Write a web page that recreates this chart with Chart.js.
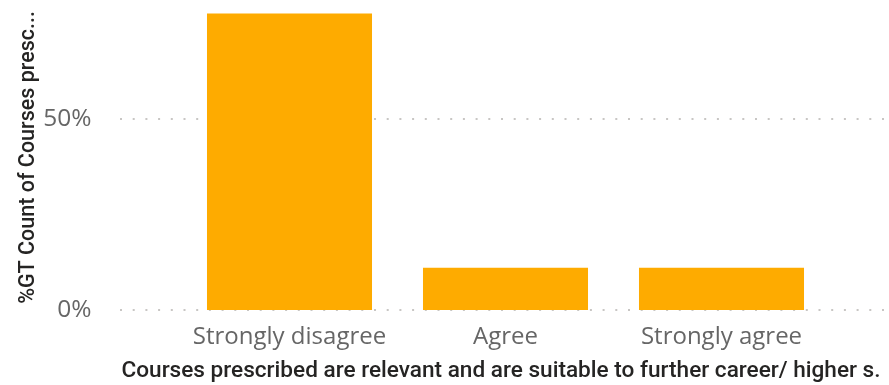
<!DOCTYPE html>
<html>
<head>
<meta charset="utf-8">
<script src="https://cdn.jsdelivr.net/npm/chart.js@4.4.1/dist/chart.umd.min.js"></script>
<style>
  html, body { margin: 0; padding: 0; background: #ffffff; }
  #wrap { width: 889px; height: 385px; }
</style>
</head>
<body>
<div id="wrap"><canvas id="c" width="889" height="385"></canvas></div>
<script>
const categories = ["Strongly disagree", "Agree", "Strongly agree"];
const percentValues = [77.78, 11.11, 11.11];
const yTickValues = [0, 50];
const xAxisTitle = "Courses prescribed are relevant and are suitable to further career/ higher s.";
const yAxisTitle = "%GT Count of Courses presc...";

const gridPlugin = {
  id: 'dottedGrid',
  beforeDatasetsDraw(chart) {
    const y = chart.scales.y;
    const ctx = chart.ctx;
    const area = chart.chartArea;
    ctx.save();
    ctx.strokeStyle = '#c8c6c4';
    ctx.lineWidth = 2;
    ctx.setLineDash([2, 10.7]);
    y.ticks.forEach(t => {
      const py = Math.round(y.getPixelForValue(t.value));
      ctx.beginPath();
      ctx.moveTo(area.left - 61.5, py);
      ctx.lineTo(chart.width, py);
      ctx.stroke();
    });
    ctx.restore();
  }
};

const xTitlePlugin = {
  id: 'xTitle',
  afterDraw(chart) {
    const ctx = chart.ctx;
    const area = chart.chartArea;
    ctx.save();
    ctx.fillStyle = '#252423';
    ctx.font = '500 22.8px Roboto';
    ctx.textAlign = 'left';
    ctx.textBaseline = 'alphabetic';
    ctx.fillText(xAxisTitle, area.left - 60, chart.height - 8, 759);
    ctx.restore();
  }
};

new Chart(document.getElementById('c'), {
  type: 'bar',
  data: {
    labels: categories,
    datasets: [{
      data: percentValues,
      backgroundColor: '#FEAB00',
      borderWidth: 0,
      categoryPercentage: 1,
      barPercentage: 0.764
    }]
  },
  options: {
    responsive: false,
    animation: false,
    devicePixelRatio: 1,
    layout: { padding: { top: 5, right: 59.5, left: 0, bottom: 0 } },
    plugins: { legend: { display: false }, tooltip: { enabled: false } },
    scales: {
      x: {
        grid: { display: false },
        border: { display: false },
        ticks: {
          color: '#666666',
          padding: 5,
          maxRotation: 0,
          font: { family: 'Open Sans', size: 24 }
        },
        title: { display: false },
        afterFit(scale) {
          scale.height = 75;
          scale.paddingLeft = 0; scale.paddingRight = 0;
        }
      },
      y: {
        min: 0,
        max: 80,
        grid: { display: false },
        border: { display: false },
        afterBuildTicks(scale) { scale.ticks = yTickValues.map(v => ({ value: v })); },
        ticks: {
          color: '#666666',
          padding: 82,
          font: { family: 'Open Sans', size: 24.5 },
          callback: v => v + '%'
        },
        title: {
          display: true,
          text: yAxisTitle,
          color: '#252423',
          padding: { top: 16, bottom: 0 },
          font: { family: 'Roboto', size: 21.5, weight: '500' }
        },
        afterFit(scale) {
          scale.width = 181.5;
          scale.paddingTop = 0; scale.paddingBottom = 0;
        }
      }
    }
  },
  plugins: [gridPlugin, xTitlePlugin]
});
</script>
</body>
</html>
